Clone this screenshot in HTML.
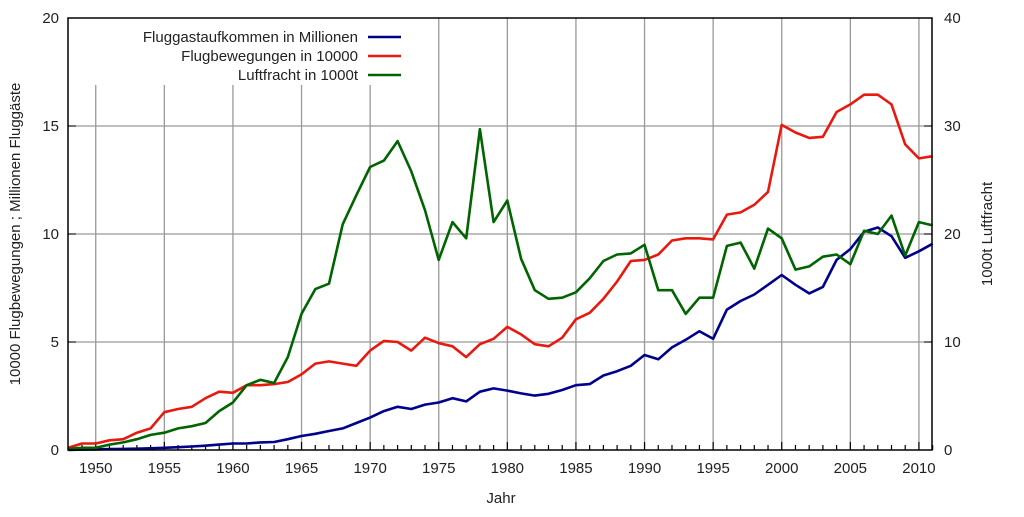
<!DOCTYPE html>
<html><head><meta charset="utf-8"><style>
html,body{margin:0;padding:0;background:#fff;}
svg text{font-family:"Liberation Sans",sans-serif;font-size:15px;fill:#222;}
</style></head><body>
<svg id="s" width="1024" height="512" xmlns="http://www.w3.org/2000/svg"></svg>
<script>
const s=document.getElementById('s');
const X=y=>68.3+(y-1948)*13.72, Y=v=>450-v*21.6;
let h='';
// grid
for(let yr=1950;yr<=2010;yr+=5){const x=X(yr);const top=yr<=1970?85:18;h+=`<line x1="${x}" y1="${top}" x2="${x}" y2="450" stroke="#999" stroke-width="1.3"/>`;}
for(let v=5;v<20;v+=5){h+=`<line x1="68" y1="${Y(v)}" x2="932" y2="${Y(v)}" stroke="#999" stroke-width="1.3"/>`;}
// ticks
for(let yr=1949;yr<=2011;yr++){const x=X(yr);const L=yr%5==0?8:5;h+=`<line x1="${x}" y1="450" x2="${x}" y2="${450-L}" stroke="#000" stroke-width="1.2"/>`;}
for(let v=0;v<=20;v+=5){h+=`<line x1="68" y1="${Y(v)}" x2="76" y2="${Y(v)}" stroke="#000"/><line x1="924" y1="${Y(v)}" x2="932" y2="${Y(v)}" stroke="#000"/>`;
h+=`<text x="59" y="${Y(v)+5}" text-anchor="end">${v}</text><text x="944" y="${Y(v)+5}">${v*2}</text>`;}
for(let yr=1950;yr<=2010;yr+=5)h+=`<text x="${X(yr)}" y="473" text-anchor="middle">${yr}</text>`;
const blue=[0,.02,.03,.04,.05,.06,.08,.1,.13,.16,.2,.25,.3,.3,.35,.37,.5,.65,.75,.88,1,1.25,1.5,1.8,2,1.9,2.1,2.2,2.4,2.25,2.7,2.85,2.75,2.62,2.52,2.6,2.78,3,3.05,3.45,3.65,3.9,4.4,4.2,4.75,5.1,5.5,5.15,6.5,6.9,7.2,7.65,8.1,7.65,7.25,7.55,8.8,9.3,10.1,10.3,9.9,8.9,9.2,9.55];
const red=[.1,.3,.3,.45,.5,.8,1,1.75,1.9,2,2.4,2.7,2.65,3,3,3.05,3.15,3.5,4,4.1,4,3.9,4.6,5.05,5,4.6,5.2,4.95,4.8,4.3,4.9,5.15,5.7,5.35,4.9,4.8,5.2,6.05,6.35,7,7.8,8.75,8.8,9.05,9.7,9.8,9.8,9.75,10.9,11,11.35,11.95,15.05,14.7,14.45,14.5,15.65,16,16.45,16.45,16,14.15,13.5,13.6];
const green=[.05,.1,.1,.25,.35,.5,.7,.8,1,1.1,1.25,1.8,2.2,3,3.25,3.1,4.3,6.3,7.45,7.7,10.45,11.8,13.1,13.4,14.3,12.9,11.1,8.8,10.55,9.8,14.85,10.55,11.55,8.85,7.4,7,7.05,7.3,7.95,8.75,9.05,9.1,9.5,7.4,7.4,6.3,7.05,7.05,9.45,9.6,8.4,10.25,9.8,8.35,8.5,8.95,9.05,8.6,10.15,10,10.85,9,10.55,10.4];
const pl=(d,c)=>`<polyline fill="none" stroke="${c}" stroke-width="2.6" stroke-linejoin="round" points="${d.map((v,i)=>X(1948+i).toFixed(1)+','+Y(v).toFixed(1)).join(' ')}"/>`;
h+=pl(blue,'#00008b')+pl(red,'#e8190f')+pl(green,'#006400');
h+=`<rect x="68" y="18" width="864" height="432" fill="none" stroke="#000" stroke-width="1.5"/>`;
// legend
[['Fluggastaufkommen in Millionen','#00008b'],['Flugbewegungen in 10000','#e8190f'],['Luftfracht in 1000t','#006400']].forEach((l,i)=>{const y=37+i*19;h+=`<text x="358" y="${y+5}" text-anchor="end">${l[0]}</text><line x1="368" y1="${y}" x2="401" y2="${y}" stroke="${l[1]}" stroke-width="2.6"/>`;});
h+=`<text x="501" y="503" text-anchor="middle">Jahr</text>`;
h+=`<text transform="translate(20,234) rotate(-90)" text-anchor="middle">10000 Flugbewegungen ; Millionen Fluggäste</text>`;
h+=`<text transform="translate(992,234) rotate(-90)" text-anchor="middle">1000t Luftfracht</text>`;
s.innerHTML=h;
</script>
</body></html>
